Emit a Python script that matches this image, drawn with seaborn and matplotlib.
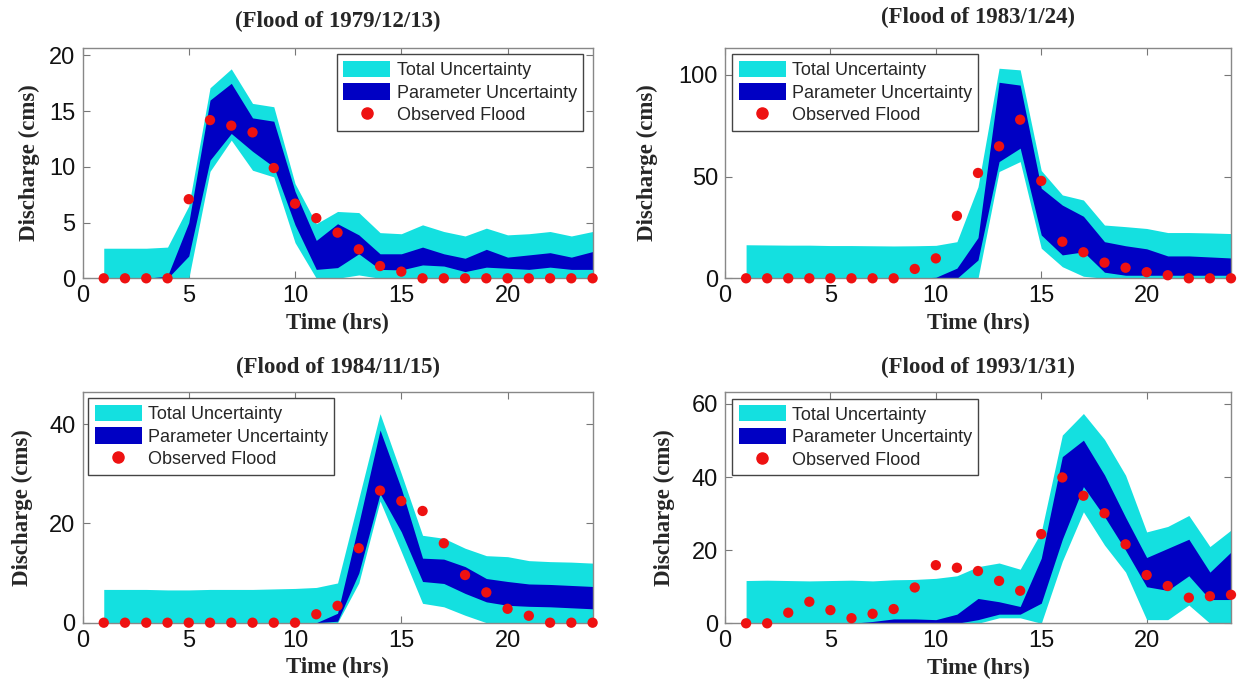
import matplotlib
matplotlib.use("Agg")
import numpy as np
import pandas as pd
import seaborn as sns
import matplotlib.pyplot as plt
from matplotlib.patches import Patch
from matplotlib.lines import Line2D

# ---------------- data ----------------
hours = list(range(1, 25))

titles = ["(Flood of 1979/12/13)", "(Flood of 1983/1/24)",
          "(Flood of 1984/11/15)", "(Flood of 1993/1/31)"]

# Flood of 1979/12/13
obs_1979 = [0, 0, 0, 0, 7.1, 14.2, 13.7, 13.1, 9.9, 6.7, 5.4, 4.1, 2.6, 1.1, 0.6,
            0, 0, 0, 0, 0, 0, 0, 0, 0]
tot_hi_1979 = [2.7, 2.7, 2.7, 2.8, 6.5, 17.1, 18.8, 15.7, 15.4, 8.5, 4.9, 6.0, 5.9, 4.1,
               4.0, 4.8, 4.2, 3.8, 4.5, 3.9, 4.0, 4.2, 3.8, 4.2]
tot_lo_1979 = [0, 0, 0, 0, 0, 9.6, 12.4, 9.7, 9.1, 3.2, 0, 0, 0.3, 0, 0,
               0, 0, 0, 0, 0, 0, 0, 0, 0]
par_hi_1979 = [0, 0, 0, 0.2, 5.0, 16.0, 17.5, 14.4, 14.1, 7.8, 3.4, 4.9, 3.9, 2.2, 2.2,
               2.8, 2.2, 1.8, 2.6, 1.9, 2.1, 2.3, 1.9, 2.4]
par_lo_1979 = [0, 0, 0, 0, 2.0, 10.6, 13.0, 11.4, 10.0, 4.8, 0.8, 0.96, 2.2, 0.8, 0.75,
               1.2, 1.1, 0.6, 1.0, 0.9, 0.8, 1.0, 0.8, 0.8]

# Flood of 1983/1/24
obs_1983 = [0, 0, 0, 0, 0, 0, 0, 0, 4.6, 9.8, 30.7, 51.8, 64.9, 78.0, 47.9,
            18.0, 12.8, 7.7, 5.2, 3.0, 1.5, 0, 0, 0]
tot_hi_1983 = [16.5, 16.4, 16.3, 16.3, 16.1, 16.1, 16.0, 15.9, 16.0, 16.2, 18.0, 45.0,
               103.3, 102.5, 53.0, 41.0, 38.5, 26.2, 25.4, 24.5, 22.5, 22.5, 22.3, 22.0]
tot_lo_1983 = [0, 0, 0, 0, 0, 0, 0, 0, 0, 0, 0, 0, 52.5, 57.4, 14.8,
               5.7, 1.0, 0, 0, 0, 0, 0, 0, 0]
par_hi_1983 = [0, 0, 0, 0, 0, 0, 0, 0, 0, 0.5, 5.0, 20.0, 96.4, 95.0, 44.3,
               36.0, 30.5, 18.0, 16.0, 14.5, 11.0, 11.0, 10.5, 10.0]
par_lo_1983 = [0, 0, 0, 0, 0, 0, 0, 0, 0, 0, 0, 9.0, 57.4, 64.0, 21.3,
               11.5, 13.0, 3.0, 1.5, 1.5, 1.5, 1.5, 1.5, 1.5]

# Flood of 1984/11/15
obs_1984 = [0, 0, 0, 0, 0, 0, 0, 0, 0, 0, 1.7, 3.4, 15.0, 26.6, 24.5,
            22.5, 16.0, 9.6, 6.1, 2.8, 1.4, 0, 0, 0]
tot_hi_1984 = [6.7, 6.7, 6.7, 6.6, 6.6, 6.7, 6.7, 6.7, 6.8, 6.9, 7.1, 8.0, 25.0, 42.1,
               30.0, 17.6, 17.0, 15.0, 13.5, 13.3, 12.5, 12.3, 12.2, 12.0]
tot_lo_1984 = [0, 0, 0, 0, 0, 0, 0, 0, 0, 0, 0, 0, 8.0, 24.5, 14.3,
               3.9, 3.2, 1.5, 0, 0, 0, 0, 0, 0]
par_hi_1984 = [0, 0, 0, 0, 0, 0, 0, 0, 0, 0, 0, 1.9, 20.0, 38.8, 27.0,
               13.0, 12.8, 11.3, 8.9, 8.3, 7.8, 7.7, 7.5, 7.3]
par_lo_1984 = [0, 0, 0, 0, 0, 0, 0, 0, 0, 0, 0, 0.3, 10.0, 26.0, 18.3,
               8.3, 7.9, 5.9, 4.2, 3.5, 3.3, 3.2, 3.0, 2.8]

# Flood of 1993/1/31
obs_1993 = [0, 0, 2.9, 5.9, 3.6, 1.4, 2.6, 3.9, 9.8, 15.9, 15.2, 14.3, 11.6, 8.9, 24.4,
            39.9, 34.9, 30.1, 21.6, 13.2, 10.2, 7.0, 7.4, 7.8]
tot_hi_1993 = [11.7, 11.8, 11.7, 11.6, 11.7, 11.8, 11.6, 11.9, 12.0, 12.3, 13.0, 15.5,
               16.5, 14.8, 25.0, 51.5, 57.4, 50.3, 40.5, 25.0, 26.5, 29.5, 21.0, 25.5]
tot_lo_1993 = [0, 0, 0, 0, 0, 0, 0, 0, 0, 0, 0, 0, 1.5, 1.5, 0,
               17.0, 30.5, 21.4, 14.0, 1.0, 1.0, 5.0, 0, 0]
par_hi_1993 = [0, 0, 0, 0, 0, 0, 0.5, 1.2, 1.2, 1.0, 2.5, 6.8, 5.9, 4.6, 17.8,
               45.6, 50.1, 40.6, 29.0, 18.0, 20.5, 23.0, 14.0, 19.5]
par_lo_1993 = [0, 0, 0, 0, 0, 0, 0, 0, 0, 0, 0, 1.0, 2.5, 2.5, 5.5,
               23.0, 37.4, 29.2, 20.0, 10.0, 9.0, 13.0, 6.5, 6.5]

y_ticks = [[0, 5, 10, 15, 20], [0, 50, 100], [0, 20, 40], [0, 20, 40, 60]]
y_tops = [20.7, 113.4, 46.4, 63.2]
x_ticks = [0, 5, 10, 15, 20]

panels = [
    (obs_1979, tot_lo_1979, tot_hi_1979, par_lo_1979, par_hi_1979),
    (obs_1983, tot_lo_1983, tot_hi_1983, par_lo_1983, par_hi_1983),
    (obs_1984, tot_lo_1984, tot_hi_1984, par_lo_1984, par_hi_1984),
    (obs_1993, tot_lo_1993, tot_hi_1993, par_lo_1993, par_hi_1993),
]

# ---------------- style ----------------
sns.set_style("ticks")
plt.rcParams['font.family'] = ['Liberation Sans', 'DejaVu Sans']

CYAN = "#14e0e0"
BLUE = "#0000c4"
RED = "#ee1111"
SERIF = ['Liberation Serif', 'DejaVu Serif']

W, H = 1238, 692
fig = plt.figure(figsize=(W / 100, H / 100), dpi=100)

# axes boxes in pixels: left, top, right, bottom
boxes = [(82.5, 47.7, 592.6, 278.3), (725, 47.7, 1231, 278.3),
         (82.5, 392.3, 592.6, 622.7), (725, 392.3, 1231, 623.3)]
ylabel_x = [40, 658, 33, 675]
title_pad = [15, 18, 14, 14]
legend_anchor = [("upper right", (583, 54.3)), ("upper left", (732.3, 54.3)),
                 ("upper left", (88.3, 398.3)), ("upper left", (732.3, 399))]

for i, (box, data) in enumerate(zip(boxes, panels)):
    l, t, r, b = box
    ax = fig.add_axes([l / W, (H - b) / H, (r - l) / W, (b - t) / H])
    obs, tlo, thi, plo, phi = data
    df = pd.DataFrame({"hour": hours, "observed": obs, "tot_lo": tlo, "tot_hi": thi,
                       "par_lo": plo, "par_hi": phi})
    ax.fill_between(df["hour"], df["tot_lo"], df["tot_hi"], color=CYAN, lw=0, zorder=1)
    ax.fill_between(df["hour"], df["par_lo"], df["par_hi"], color=BLUE, lw=0, zorder=2)
    sns.scatterplot(data=df, x="hour", y="observed", ax=ax, color=RED, s=55,
                    edgecolor="none", zorder=4, clip_on=False, legend=False)

    ax.set_xlim(0, 24)
    ax.set_ylim(0, y_tops[i])
    ax.set_xticks(x_ticks)
    ax.set_yticks(y_ticks[i])
    ax.tick_params(direction="in", length=5, width=0.8, color="#777777",
                   top=True, right=True, labelsize=17, pad=5, labelcolor="#111111")
    for sp in ax.spines.values():
        sp.set_color("#888888")
        sp.set_linewidth(1.0)

    ax.set_title(titles[i], family=SERIF, fontweight="bold", fontsize=16.5,
                 pad=title_pad[i])
    ax.set_xlabel("Time (hrs)", family=SERIF, fontweight="bold", fontsize=16.5,
                  labelpad=4)
    ax.set_ylabel("Discharge (cms)", family=SERIF, fontweight="bold", fontsize=16.5)
    ax.yaxis.set_label_coords((ylabel_x[i] - l) / (r - l), 0.5)

    handles = [Patch(facecolor=CYAN, edgecolor="none", label="Total Uncertainty"),
               Patch(facecolor=BLUE, edgecolor="none", label="Parameter Uncertainty"),
               Line2D([], [], marker="o", ls="", color=RED, markersize=8,
                      label="Observed Flood")]
    loc, (ax_px, ay_px) = legend_anchor[i]
    leg = ax.legend(handles=handles, loc=loc,
                    bbox_to_anchor=((ax_px - l) / (r - l), 1 - (ay_px - t) / (b - t)),
                    borderaxespad=0, fancybox=False, framealpha=1, fontsize=13,
                    handlelength=2.6, handleheight=1.0, handletextpad=0.35,
                    labelspacing=0.25, borderpad=0.35)
    leg.get_frame().set_edgecolor("#444444")
    leg.get_frame().set_linewidth(1.0)
    leg.set_zorder(5)

fig.savefig("out.png", dpi=100)
